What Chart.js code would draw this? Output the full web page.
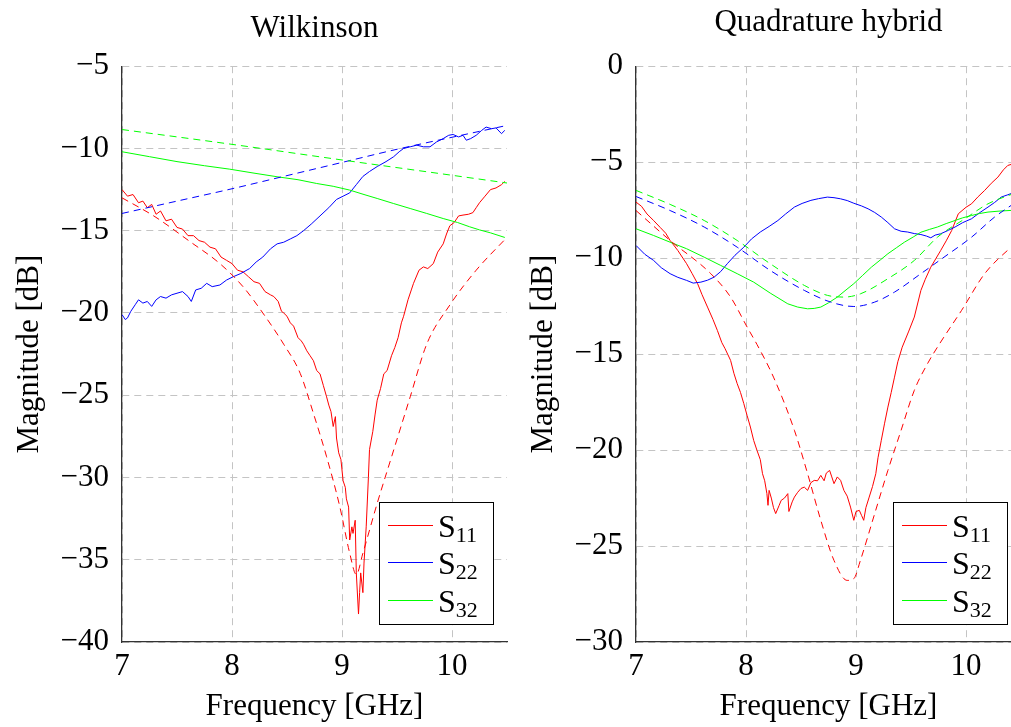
<!DOCTYPE html>
<html lang="en">
<head>
    <meta charset="UTF-8">
    <title>Wilkinson / Quadrature hybrid S-parameters</title>
    <script src="https://cdn.jsdelivr.net/npm/chart.js@4.4.1/dist/chart.umd.min.js"></script>
    <style>
        body { margin: 0; background: #fff; overflow: hidden; }
        #wrap { position: relative; width: 1011px; height: 727px; overflow: hidden; }
        #wilk { position: absolute; left: 0; top: 0; }
        #quad { position: absolute; left: 520px; top: 0; }
    </style>
</head>
<body>
<div id="wrap">
    <canvas id="wilk" width="520" height="727"></canvas>
    <canvas id="quad" width="520" height="727"></canvas>
</div>
<script>
    const FONT = '"Liberation Serif", "DejaVu Serif", serif';
    const RED = '#ff0000', BLUE = '#0000ff', GREEN = '#00ff00';

    const legendSubs = ['11', '22', '32'];
    const legendColors = [RED, BLUE, GREEN];

    // ---- Wilkinson (measured = solid, simulated = dashed)
    const wilkS11F = [7.00,7.05,7.10,7.15,7.19,7.23,7.27,7.31,7.35,7.40,7.45,7.50,7.55,7.60,7.65,7.70,7.75,7.80,7.85,7.90,7.95,8.00,8.05,8.10,8.15,8.20,8.25,8.30,8.35,8.38,8.42,8.45,8.47,8.50,8.53,8.56,8.60,8.63,8.65,8.68,8.71,8.74,8.77,8.80,8.83,8.86,8.88,8.90,8.92,8.94,8.95,8.97,8.99,9.01,9.03,9.04,9.06,9.07,9.09,9.10,9.12,9.13,9.15,9.16,9.17,9.19,9.20,9.22,9.24,9.25,9.28,9.30,9.32,9.35,9.38,9.41,9.45,9.48,9.51,9.54,9.56,9.60,9.63,9.65,9.70,9.74,9.78,9.83,9.87,9.92,9.95,9.98,10.02,10.06,10.10,10.15,10.19,10.22,10.25,10.30,10.35,10.40,10.45,10.48];
    const wilkS11Db = [-12.5,-12.9,-12.8,-13.3,-13.2,-13.6,-13.4,-14.0,-13.8,-14.4,-14.3,-14.8,-14.9,-15.3,-15.3,-15.6,-15.7,-16.0,-16.1,-16.6,-16.8,-17.0,-17.4,-17.5,-17.8,-18.1,-18.2,-18.7,-18.9,-19.0,-19.3,-19.9,-20.0,-20.2,-20.6,-20.8,-21.5,-21.7,-21.9,-22.3,-22.6,-22.9,-23.5,-23.7,-24.4,-25.1,-25.6,-26.0,-26.9,-26.3,-27.6,-28.5,-28.9,-30.2,-30.6,-31.3,-31.8,-33.8,-33.0,-33.4,-32.6,-35.8,-38.3,-37.0,-35.8,-37.0,-35.2,-33.0,-30.0,-28.3,-27.2,-26.2,-25.3,-24.6,-23.7,-23.5,-22.6,-22.1,-21.5,-20.6,-20.2,-19.2,-18.6,-18.2,-17.4,-17.2,-17.3,-17.0,-16.3,-15.8,-15.2,-14.7,-14.5,-14.1,-14.05,-14.0,-13.9,-13.6,-13.3,-12.9,-12.5,-12.4,-12.2,-12.0];
    const wilkS11SimF = [7.00,7.30,7.62,7.89,8.10,8.28,8.47,8.62,8.74,8.86,8.98,9.07,9.13,9.19,9.32,9.47,9.62,9.77,9.98,10.22,10.50];
    const wilkS11SimDb = [-13.0,-14.15,-15.67,-17.0,-18.4,-20.0,-21.9,-23.67,-26.1,-28.74,-31.77,-34.6,-35.9,-34.6,-31.57,-28.33,-25.1,-21.9,-19.52,-17.4,-15.4];

    const wilkS22F = [7.00,7.03,7.05,7.08,7.12,7.15,7.19,7.23,7.27,7.31,7.35,7.40,7.45,7.50,7.55,7.60,7.63,7.67,7.72,7.77,7.82,7.89,7.95,8.01,8.08,8.16,8.22,8.28,8.35,8.41,8.47,8.53,8.59,8.65,8.72,8.80,8.88,8.95,9.01,9.07,9.13,9.19,9.25,9.32,9.40,9.47,9.52,9.56,9.62,9.68,9.74,9.80,9.86,9.92,9.97,10.01,10.06,10.10,10.13,10.17,10.22,10.27,10.31,10.36,10.40,10.45,10.48];
    const wilkS22Db = [-20.1,-20.4,-20.3,-19.9,-19.5,-19.2,-19.4,-19.3,-19.6,-19.2,-19.0,-19.1,-18.9,-18.8,-18.7,-19.0,-19.3,-18.6,-18.5,-18.2,-18.4,-18.3,-18.0,-17.8,-17.6,-17.3,-16.9,-16.6,-16.1,-15.8,-15.7,-15.5,-15.3,-15.0,-14.6,-14.1,-13.6,-13.1,-12.9,-12.7,-12.2,-11.7,-11.4,-11.1,-10.8,-10.5,-10.2,-10.0,-9.9,-9.8,-9.9,-9.9,-9.6,-9.4,-9.2,-9.15,-9.3,-9.2,-9.5,-9.4,-9.2,-8.9,-8.7,-8.8,-8.75,-9.1,-8.9];
    const wilkS22SimF = [7.0,7.5,8.0,8.5,9.0,9.5,10.16,10.5];
    const wilkS22SimDb = [-13.95,-13.2,-12.45,-11.65,-10.85,-10.05,-9.09,-8.6];

    const wilkS32F = [7.00,7.25,7.50,7.75,7.98,8.20,8.41,8.60,8.77,8.92,9.07,9.20,9.32,9.47,9.62,9.77,9.92,10.05,10.16,10.25,10.35,10.48];
    const wilkS32Db = [-10.2,-10.5,-10.8,-11.05,-11.26,-11.5,-11.72,-11.9,-12.13,-12.3,-12.53,-12.8,-13.04,-13.35,-13.65,-13.95,-14.26,-14.5,-14.76,-14.95,-15.13,-15.41];
    const wilkS32SimF = [7.0,8.0,9.0,10.0,10.5];
    const wilkS32SimDb = [-8.85,-9.75,-10.7,-11.63,-12.1];

    // ---- Quadrature hybrid
    const quadS11F = [7.00,7.05,7.10,7.16,7.22,7.27,7.31,7.38,7.46,7.51,7.56,7.60,7.65,7.70,7.74,7.78,7.81,7.86,7.89,7.92,7.95,7.98,8.01,8.04,8.07,8.10,8.13,8.15,8.17,8.19,8.20,8.21,8.23,8.25,8.27,8.30,8.32,8.35,8.38,8.39,8.42,8.44,8.47,8.50,8.53,8.56,8.59,8.62,8.65,8.68,8.71,8.73,8.76,8.78,8.80,8.83,8.86,8.89,8.92,8.95,8.98,9.00,9.03,9.05,9.07,9.09,9.12,9.15,9.18,9.20,9.23,9.26,9.29,9.32,9.35,9.38,9.42,9.48,9.53,9.59,9.63,9.68,9.77,9.82,9.87,9.93,10.00,10.05,10.11,10.17,10.23,10.29,10.34,10.38,10.45];
    const quadS11Db = [-7.08,-7.3,-7.7,-8.04,-8.4,-8.7,-9.08,-9.6,-10.29,-10.8,-11.33,-11.9,-12.55,-13.2,-13.77,-14.4,-14.72,-15.33,-16.0,-16.54,-17.0,-17.58,-18.2,-18.8,-19.5,-20.02,-20.5,-21.23,-21.6,-22.27,-22.88,-22.1,-22.5,-23.0,-23.31,-22.9,-22.62,-22.5,-22.27,-23.2,-22.7,-22.45,-22.2,-22.0,-21.93,-22.1,-21.7,-21.58,-21.6,-21.32,-21.6,-21.2,-21.06,-21.4,-21.75,-21.4,-21.58,-22.1,-22.4,-22.97,-23.66,-23.2,-23.14,-23.4,-23.66,-23.0,-22.45,-21.9,-21.23,-20.4,-19.49,-18.6,-17.76,-17.0,-16.2,-15.4,-14.64,-13.8,-13.07,-11.68,-11.1,-10.47,-9.6,-9.1,-8.56,-7.69,-7.35,-7.17,-6.8,-6.47,-6.1,-5.78,-5.4,-5.17,-5.05];
    const quadS11SimF = [7.00,7.31,7.68,7.86,8.01,8.10,8.25,8.44,8.56,8.68,8.80,8.92,8.98,9.04,9.17,9.29,9.41,9.53,9.65,9.76,9.96,10.17,10.41,10.50];
    const quadS11SimDb = [-7.52,-9.08,-10.81,-12.03,-13.59,-14.5,-16.2,-18.97,-21.23,-23.66,-25.75,-26.79,-26.7,-25.75,-23.31,-21.06,-18.97,-16.89,-15.5,-14.46,-12.72,-10.81,-9.43,-9.0];

    const quadS22F = [7.00,7.08,7.16,7.23,7.31,7.38,7.46,7.52,7.59,7.65,7.71,7.77,7.83,7.90,7.98,8.05,8.13,8.21,8.29,8.36,8.44,8.51,8.59,8.66,8.74,8.80,8.86,8.92,8.98,9.05,9.11,9.17,9.23,9.29,9.35,9.41,9.47,9.53,9.59,9.64,9.68,9.72,9.77,9.84,9.90,9.97,10.05,10.12,10.20,10.26,10.32,10.38,10.45];
    const quadS22Db = [-9.34,-9.8,-10.12,-10.5,-10.81,-11.0,-11.16,-11.3,-11.25,-11.15,-10.99,-10.7,-10.29,-9.85,-9.43,-9.0,-8.64,-8.35,-8.04,-7.7,-7.34,-7.15,-6.99,-6.9,-6.82,-6.85,-6.91,-7.0,-7.14,-7.28,-7.43,-7.62,-7.86,-8.15,-8.47,-8.6,-8.64,-8.72,-8.77,-8.85,-8.94,-8.8,-8.73,-8.55,-8.38,-8.15,-7.95,-7.65,-7.34,-7.1,-6.82,-6.7,-6.55];
    const quadS22SimF = [7.00,7.31,7.62,7.92,8.22,8.53,8.77,8.98,9.17,9.35,9.59,9.80,10.05,10.26,10.45];
    const quadS22SimDb = [-6.79,-7.52,-8.38,-9.43,-10.64,-11.68,-12.29,-12.52,-12.29,-11.77,-10.81,-9.95,-8.91,-7.86,-7.1];

    const quadS32F = [7.00,7.16,7.31,7.46,7.62,7.77,7.92,8.07,8.22,8.38,8.47,8.56,8.62,8.68,8.75,8.83,8.90,8.98,9.06,9.14,9.22,9.29,9.37,9.44,9.52,9.59,9.67,9.74,9.82,9.90,9.97,10.05,10.12,10.20,10.30,10.45];
    const quadS32Db = [-8.47,-8.82,-9.17,-9.51,-9.95,-10.38,-10.81,-11.25,-11.82,-12.38,-12.55,-12.64,-12.62,-12.55,-12.33,-12.03,-11.7,-11.33,-10.9,-10.47,-10.1,-9.77,-9.45,-9.17,-8.9,-8.65,-8.5,-8.38,-8.2,-8.04,-7.9,-7.78,-7.68,-7.6,-7.55,-7.5];
    const quadS32SimF = [7.00,7.31,7.62,7.92,8.22,8.53,8.74,8.89,9.04,9.29,9.53,9.74,9.99,10.20,10.45];
    const quadS32SimDb = [-6.47,-7.2,-8.04,-9.08,-10.29,-11.42,-11.94,-12.03,-11.86,-11.07,-10.12,-8.91,-7.95,-7.17,-6.6];

    function pts(fs, vs) {
        return fs.map((f, i) => ({ x: f, y: vs[i] }));
    }

    function series(fs, vs, color, dashed) {
        return {
            data: pts(fs, vs),
            borderColor: color,
            borderWidth: 1,
            pointRadius: 0,
            borderDash: dashed ? [7, 5] : [],
            cubicInterpolationMode: dashed ? 'monotone' : 'default',
            tension: 0
        };
    }

    function minus(v) {
        return v < 0 ? '\u2212' + Math.abs(v) : String(v);
    }

    // legend box in the lower right corner of the plot area
    const boxLegend = {
        id: 'boxLegend',
        afterDraw(chart) {
            const { ctx, chartArea: a } = chart;
            const w = 114, h = 122;
            const x = a.right - 14 - w, y = a.bottom - 18 - h;
            ctx.save();
            ctx.fillStyle = '#fff';
            ctx.fillRect(x, y, w, h);
            ctx.strokeStyle = '#000';
            ctx.lineWidth = 1;
            ctx.strokeRect(Math.round(x) + 0.5, Math.round(y) + 0.5, w, h);
            legendSubs.forEach((sub, i) => {
                const ly = Math.round(y + 22.5 + i * 37.5) + 0.5;
                ctx.strokeStyle = legendColors[i];
                ctx.beginPath();
                ctx.moveTo(x + 9, ly);
                ctx.lineTo(x + 54, ly);
                ctx.stroke();
                ctx.fillStyle = '#000';
                ctx.textBaseline = 'alphabetic';
                ctx.font = '32px ' + FONT;
                ctx.fillText('S', x + 59, ly + 11);
                const sw = ctx.measureText('S').width;
                ctx.font = '22px ' + FONT;
                ctx.fillText(sub, x + 59 + sw, ly + 16);
            });
            ctx.restore();
        }
    };

    function makeChart(id, cfg) {
        const xTitlePad = { top: 0, bottom: 2 };
        return new Chart(document.getElementById(id), {
            type: 'line',
            data: { datasets: cfg.datasets },
            plugins: [boxLegend],
            options: {
                responsive: false,
                animation: false,
                events: [],
                layout: { padding: { left: 0, right: cfg.padRight, top: 0, bottom: 0 } },
                plugins: {
                    legend: { display: false },
                    tooltip: { enabled: false },
                    title: {
                        display: true,
                        text: cfg.title,
                        fullSize: false,
                        color: '#000',
                        font: { family: FONT, size: 31, weight: 'normal', lineHeight: 1.2 },
                        padding: cfg.titlePad
                    }
                },
                scales: {
                    x: {
                        type: 'linear',
                        min: 7,
                        max: 10.5,
                        afterFit: s => { s.height = 85; },
                        ticks: {
                            stepSize: 1,
                            includeBounds: false,
                            padding: 6,
                            color: '#000',
                            font: { family: FONT, size: 31 }
                        },
                        grid: { color: '#c4c4c4', lineWidth: 1, drawTicks: false },
                        border: { color: '#333', width: 1.3, dash: [7, 5] },
                        title: {
                            display: true,
                            text: 'Frequency [GHz]',
                            color: '#000',
                            font: { family: FONT, size: 31, lineHeight: 1.2 },
                            padding: xTitlePad
                        }
                    },
                    y: {
                        min: cfg.yMin,
                        max: cfg.yMax,
                        afterFit: s => { s.width = cfg.yWidth; },
                        ticks: {
                            stepSize: 5,
                            padding: 13,
                            color: '#000',
                            font: { family: FONT, size: 31 },
                            callback: v => minus(v)
                        },
                        grid: { color: '#c4c4c4', lineWidth: 1, drawTicks: false },
                        border: { color: '#333', width: 1.3, dash: [7, 5] },
                        title: {
                            display: true,
                            text: 'Magnitude [dB]',
                            color: '#000',
                            font: { family: FONT, size: 31, lineHeight: 1.2 },
                            padding: { top: cfg.yTitlePad, bottom: 0 }
                        }
                    }
                }
            }
        });
    }

    makeChart('wilk', {
        title: 'Wilkinson',
        titlePad: { top: 10, bottom: 19 },
        padRight: 13,
        yWidth: 122,
        yTitlePad: 11,
        yMin: -40,
        yMax: -5,
        datasets: [
            series(wilkS32SimF, wilkS32SimDb, GREEN, true),
            series(wilkS22SimF, wilkS22SimDb, BLUE, true),
            series(wilkS11SimF, wilkS11SimDb, RED, true),
            series(wilkS32F, wilkS32Db, GREEN, false),
            series(wilkS22F, wilkS22Db, BLUE, false),
            series(wilkS11F, wilkS11Db, RED, false)
        ]
    });

    makeChart('quad', {
        title: 'Quadrature hybrid',
        titlePad: { top: 4, bottom: 25 },
        padRight: 19,
        yWidth: 116,
        yTitlePad: 5,
        yMin: -30,
        yMax: 0,
        datasets: [
            series(quadS32SimF, quadS32SimDb, GREEN, true),
            series(quadS22SimF, quadS22SimDb, BLUE, true),
            series(quadS11SimF, quadS11SimDb, RED, true),
            series(quadS32F, quadS32Db, GREEN, false),
            series(quadS22F, quadS22Db, BLUE, false),
            series(quadS11F, quadS11Db, RED, false)
        ]
    });
</script>
</body>
</html>
